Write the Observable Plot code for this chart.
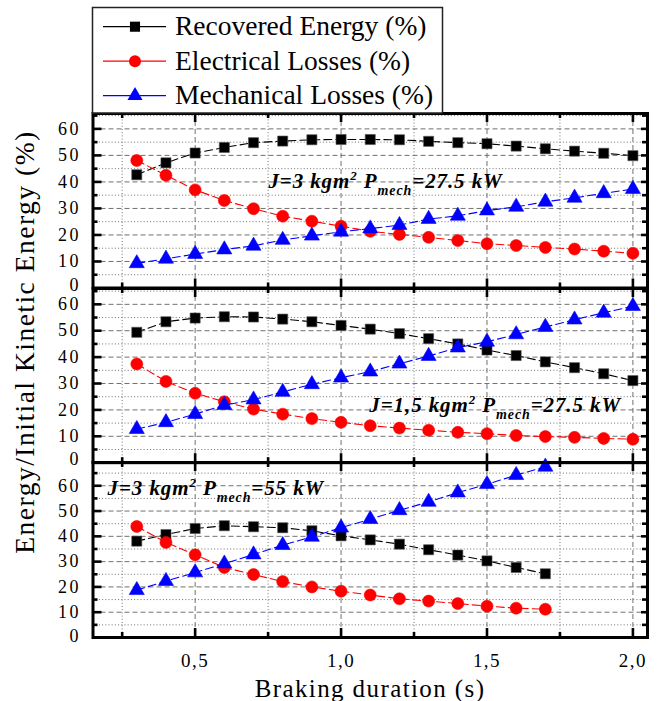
<!DOCTYPE html>
<html>
<head>
<meta charset="utf-8">
<script src="https://cdn.jsdelivr.net/npm/d3@7"></script>
<script src="https://cdn.jsdelivr.net/npm/@observablehq/plot@0.6"></script>
<style>
  html, body { margin: 0; padding: 0; background: #fff; }
  #chart { position: relative; width: 662px; height: 701px; overflow: hidden; font-family: "Liberation Serif", "Times New Roman", serif; }
  #chart svg { position: absolute; left: 0; overflow: visible; }
</style>
</head>
<body>
<div id="chart"></div>
<script>
// ---------- data ----------
const durations = [0.3, 0.4, 0.5, 0.6, 0.7, 0.8, 0.9, 1.0, 1.1, 1.2, 1.3, 1.4, 1.5, 1.6, 1.7, 1.8, 1.9, 2.0];
const durationsHighPower = [0.3, 0.4, 0.5, 0.6, 0.7, 0.8, 0.9, 1.0, 1.1, 1.2, 1.3, 1.4, 1.5, 1.6, 1.7];

// Panel 1: J=3 kgm², Pmech=27.5 kW
const recovered1  = [42.7, 47.2, 50.9, 53.0, 54.8, 55.4, 55.9, 56.0, 56.0, 55.9, 55.3, 54.8, 54.4, 53.5, 52.5, 51.6, 50.8, 49.9];
const electrical1 = [48.1, 42.5, 37.0, 33.0, 29.9, 27.1, 25.2, 23.3, 21.4, 20.2, 19.1, 17.9, 16.7, 16.0, 15.3, 14.7, 13.9, 13.1];
const mechanical1 = [9.3, 11.0, 12.8, 14.5, 15.9, 18.1, 19.7, 21.2, 22.4, 23.7, 26.0, 27.2, 29.2, 30.6, 32.5, 34.0, 35.7, 37.3];

// Panel 2: J=1,5 kgm², Pmech=27.5 kW
const recovered2  = [49.4, 53.4, 54.8, 55.3, 55.2, 54.4, 53.4, 52.0, 50.6, 48.9, 47.0, 45.0, 42.7, 40.6, 38.2, 36.0, 33.7, 31.1];
const electrical2 = [37.4, 30.8, 26.3, 23.1, 20.3, 18.4, 16.7, 15.3, 14.0, 13.1, 12.3, 11.5, 11.0, 10.3, 9.9, 9.6, 9.2, 8.9];
const mechanical2 = [12.7, 15.3, 18.4, 21.8, 23.9, 26.8, 29.7, 32.2, 34.5, 37.5, 40.4, 43.6, 45.8, 48.6, 51.4, 54.2, 56.8, 59.3];

// Panel 3: J=3 kgm², Pmech=55 kW
const recovered3  = [38.1, 40.7, 43.1, 44.2, 43.8, 43.4, 42.2, 40.2, 38.6, 36.9, 34.7, 32.6, 30.3, 27.7, 25.2];
const electrical3 = [43.9, 37.6, 32.7, 27.7, 24.9, 22.1, 20.0, 18.3, 16.8, 15.3, 14.4, 13.4, 12.4, 11.6, 11.2];
const mechanical3 = [18.7, 22.3, 25.7, 29.2, 32.8, 36.5, 39.8, 43.4, 46.8, 50.3, 53.6, 57.3, 60.6, 64.2, 67.5];

const seriesNames   = ["Recovered Energy (%)", "Electrical Losses (%)", "Mechanical Losses (%)"];
const seriesColors  = ["#000000", "#ff0000", "#0000ff"];
const seriesSymbols = ["square", "circle", "triangle"];

const inertiaLabels = ["3", "1,5", "3"];
const powerLabels   = ["27.5", "27.5", "55"];

const xMajorTicks = [0.5, 1.0, 1.5, 2.0];
const xMinorTicks = [0.25, 0.75, 1.25, 1.75];
const yLabelTicks = [10, 20, 30, 40, 50, 60];
const yZeroTick   = [0];
const yMajorTicks = [10, 20, 30, 40, 50, 60];
const yMinorTicks = [5, 15, 25, 35, 45, 55, 65];

const xTitle = "Braking duration (s)";
const yTitle = "Energy/Initial Kinetic Energy (%)";

// ---------- layout ----------
const W = 662, ML = 92.5, MR = 15;
const innerW = W - ML - MR;
const FONT = '"Liberation Serif", "Times New Roman", serif';
const GRID = "#707070";

const panels = [
  {xs: durations, values: [recovered1, electrical1, mechanical1], yMax: 65.8, top: 113, bottom: 287.5, lx: 0.751, ly: 37.6, zeroDy: -3},
  {xs: durations, values: [recovered2, electrical2, mechanical2], yMax: 66.0, top: 287.5, bottom: 461.7, lx: 1.097, ly: 19.2, zeroDy: -3},
  {xs: durationsHighPower, values: [recovered3, electrical3, mechanical3], yMax: 69.2, top: 461.7, bottom: 636.7, lx: 0.2, ly: 56.3, zeroDy: -1, xAxis: true}
];
const symbolRadius = {square: 5.7, circle: 6.0, triangle: 5.6};

const chart = document.getElementById("chart");

panels.forEach((p, i) => {
  const innerH = p.bottom - p.top;
  const mT = 4;
  const mB = p.xAxis ? 701 - p.bottom : 4;
  const yMinor = yMinorTicks.filter(v => v < p.yMax);
  const marks = [
    Plot.gridX(xMinorTicks, {stroke: GRID, strokeOpacity: 1, strokeWidth: 1, strokeDasharray: "1,2.2"}),
    Plot.gridX(xMajorTicks, {stroke: GRID, strokeOpacity: 1, strokeWidth: 1, strokeDasharray: "5,3"}),
    Plot.gridY(yMinor, {stroke: GRID, strokeOpacity: 1, strokeWidth: 1, strokeDasharray: "1,2.2"}),
    Plot.gridY(yMajorTicks, {stroke: GRID, strokeOpacity: 1, strokeWidth: 1, strokeDasharray: "5,3"}),
    // inward ticks, left & right
    Plot.tickY(yMajorTicks, {y: d => d, stroke: "#000", strokeWidth: 2.6, insetRight: innerW - 9}),
    Plot.tickY(yMinor, {y: d => d, stroke: "#000", strokeWidth: 2.6, insetRight: innerW - 5}),
    Plot.tickY(yMajorTicks, {y: d => d, stroke: "#000", strokeWidth: 2.6, insetLeft: innerW - 6}),
    Plot.tickY(yMinor, {y: d => d, stroke: "#000", strokeWidth: 2.6, insetLeft: innerW - 5}),
    // inward ticks, top & bottom
    Plot.tickX(xMajorTicks, {x: d => d, stroke: "#000", strokeWidth: 2.6, insetBottom: innerH - 9}),
    Plot.tickX(xMinorTicks, {x: d => d, stroke: "#000", strokeWidth: 2.6, insetBottom: innerH - 5}),
    Plot.tickX(xMajorTicks, {x: d => d, stroke: "#000", strokeWidth: 2.6, insetTop: innerH - 9}),
    Plot.tickX(xMinorTicks, {x: d => d, stroke: "#000", strokeWidth: 2.6, insetTop: innerH - 5})
  ];
  p.values.forEach((vals, s) => {
    const rows = p.xs.map((x, k) => ({x, v: vals[k]}));
    marks.push(Plot.line(rows, {x: "x", y: "v", stroke: seriesColors[s], strokeWidth: 1.1, strokeDasharray: "8,4"}));
    marks.push(Plot.dot(rows, {
      x: "x", y: "v", symbol: seriesSymbols[s], r: symbolRadius[seriesSymbols[s]],
      fill: seriesColors[s], stroke: s === 0 ? "#555" : seriesColors[s], strokeWidth: 0.6
    }));
  });
  marks.push(Plot.text([{x: p.lx, y: p.ly, t: `J=${inertiaLabels[i]} kgm2 Pmech=${powerLabels[i]} kW`}], {
    x: "x", y: "y", text: "t", textAnchor: "start", lineAnchor: "bottom",
    fontSize: 21, fontWeight: "bold", fontStyle: "italic", fill: "#000"
  }));
  marks.push(Plot.frame({stroke: "#000", strokeWidth: 3}));
  marks.push(Plot.axisY({ticks: yLabelTicks, tickSize: 0, tickPadding: 12, label: null, fontSize: 18}));
  marks.push(Plot.axisY({ticks: yZeroTick, tickSize: 0, tickPadding: 12, label: null, fontSize: 18, dy: p.zeroDy}));
  if (p.xAxis) {
    marks.push(Plot.axisX({
      ticks: xMajorTicks, tickSize: 0, tickPadding: 16, label: null, fontSize: 19,
      tickFormat: d => d3.format(".1f")(d).replace(".", ",")
    }));
  }
  const svg = Plot.plot({
    width: W,
    height: innerH + mT + mB,
    marginLeft: ML, marginRight: MR, marginTop: mT, marginBottom: mB,
    style: {fontFamily: FONT, fontSize: "18px", background: "none", overflow: "visible", color: "#000"},
    x: {domain: [0.15, 2.05], ...(p.xAxis ? {} : {axis: null})},
    y: {domain: [0, p.yMax]},
    marks
  });
  svg.style.top = (p.top - mT) + "px";
  svg.querySelectorAll('g[aria-label="y-axis tick label"]').forEach(g => { g.style.letterSpacing = "2.5px"; g.setAttribute("font-size", 18); });
  svg.querySelectorAll('g[aria-label="x-axis tick label"]').forEach(g => { g.style.letterSpacing = "1.5px"; g.setAttribute("font-size", 19); });
  // rich annotation: superscript 2 and subscript mech
  svg.querySelectorAll('g[aria-label="text"] text').forEach(t => {
    const ns = "http://www.w3.org/2000/svg";
    t.textContent = "";
    t.style.letterSpacing = "0.9px";
    const parts = [
      {s: `J=${inertiaLabels[i]} kgm`},
      {s: "2", size: 13, dy: -8},
      {s: " P", dy: 8},
      {s: "mech", size: 14, dy: 7},
      {s: `=${powerLabels[i]} kW`, dy: -7}
    ];
    parts.forEach(pt => {
      const ts = document.createElementNS(ns, "tspan");
      ts.textContent = pt.s;
      if (pt.size) ts.setAttribute("font-size", pt.size);
      if (pt.dy) ts.setAttribute("dy", pt.dy);
      t.appendChild(ts);
    });
  });
  chart.appendChild(svg);
});

// ---------- legend ----------
const legend = d3.create("svg")
  .attr("width", W).attr("height", 120)
  .style("top", "0px");
legend.append("rect")
  .attr("x", 92.5).attr("y", 7.5).attr("width", 350).attr("height", 105.5)
  .attr("fill", "#fff").attr("stroke", "#222").attr("stroke-width", 1.5);
const d3Symbols = {square: d3.symbolSquare, circle: d3.symbolCircle, triangle: d3.symbolTriangle};
seriesNames.forEach((name, s) => {
  const cy = 26.7 + s * 34.5;
  const g = legend.append("g");
  g.append("line").attr("x1", 103).attr("x2", 166).attr("y1", cy).attr("y2", cy)
    .attr("stroke", seriesColors[s]).attr("stroke-width", 1.2);
  const r = symbolRadius[seriesSymbols[s]];
  g.append("path")
    .attr("d", d3.symbol(d3Symbols[seriesSymbols[s]], Math.PI * r * r)())
    .attr("transform", `translate(135,${cy})`)
    .attr("fill", seriesColors[s]);
  g.append("text").attr("x", 175).attr("y", cy + 8.3)
    .attr("font-family", FONT).attr("font-size", 27.5).attr("fill", "#000")
    .text(name);
});
chart.appendChild(legend.node());

// ---------- axis titles ----------
const titles = d3.create("svg").attr("width", W).attr("height", 701).style("top", "0px").style("pointer-events", "none");
titles.append("text")
  .attr("transform", "translate(34,342) rotate(-90)")
  .attr("text-anchor", "middle")
  .attr("font-family", FONT).attr("font-size", 27.5).style("letter-spacing", "1.5px")
  .attr("fill", "#000")
  .text(yTitle);
titles.append("text")
  .attr("x", 370).attr("y", 697)
  .attr("text-anchor", "middle")
  .attr("font-family", FONT).attr("font-size", 25).style("letter-spacing", "1.4px")
  .attr("fill", "#000")
  .text(xTitle);
chart.appendChild(titles.node());
</script>
</body>
</html>
